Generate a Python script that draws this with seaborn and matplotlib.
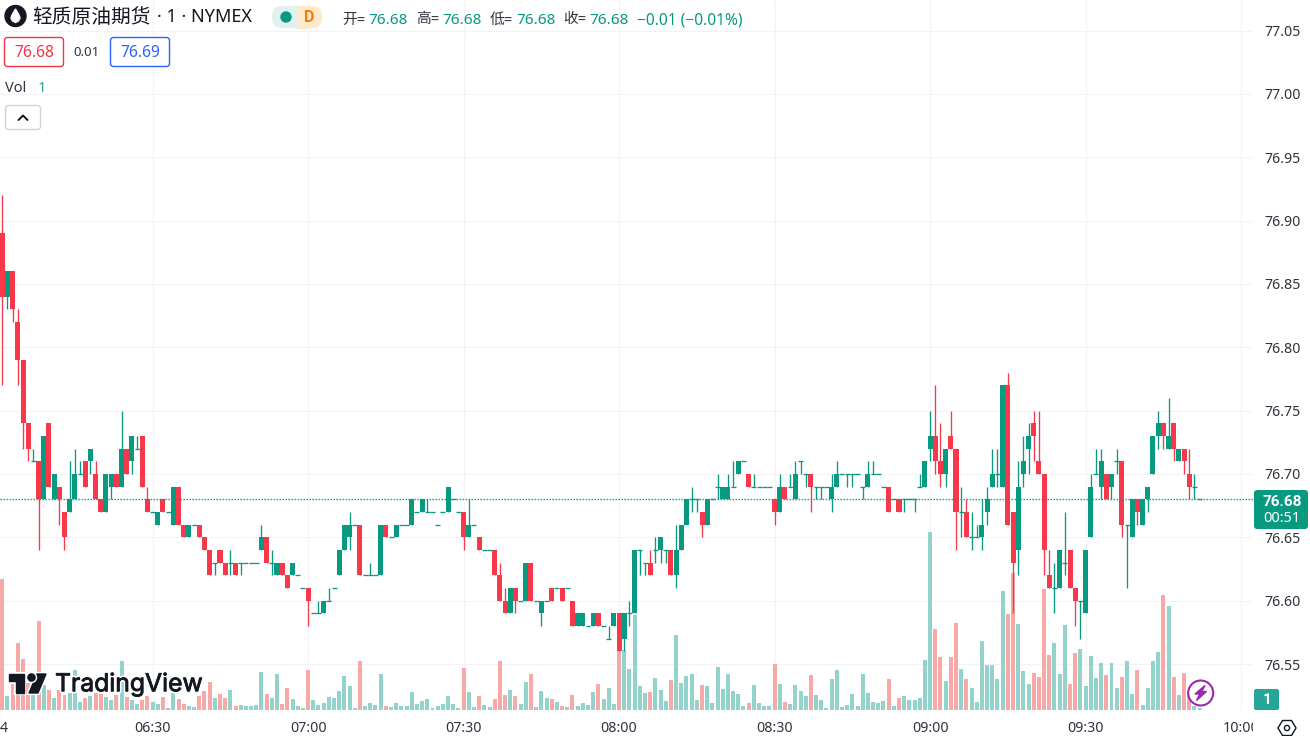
import numpy as np
import pandas as pd
import matplotlib
matplotlib.use("Agg")
import matplotlib.pyplot as plt
import matplotlib.patheffects as pe
from matplotlib.patches import Circle, FancyBboxPatch, Polygon, Rectangle
from matplotlib.transforms import Bbox, ScaledTranslation
import seaborn as sns

# prices are in cents above 76.00, one row per 20 one-minute candles
open_cents = [
    89, 84, 86, 82, 79, 74, 71, 71, 68, 74, 68, 69, 67, 67, 68, 70, 71, 71, 70, 68,
    67, 69, 70, 69, 72, 71, 72, 73, 68, 67, 66, 68, 67, 66, 69, 66, 65, 66, 66, 65,
    64, 63, 64, 63, 63, 63, 63, 63, 63, 63, 64, 65, 63, 62, 63, 62, 62, 62, 61, 61,
    59, 59, 59, 60, 61, 62, 64, 65, 66, 66, 62, 62, 62, 62, 66, 65, 65, 66, 66, 66,
    67, 67, 67, 67, 66, 67, 67, 68, 67, 67, 65, 66, 65, 64, 64, 64, 62, 60, 59, 61,
    60, 60, 63, 60, 59, 60, 61, 61, 61, 61, 60, 58, 58, 58, 58, 59, 58, 57, 58, 59,
    57, 59, 59, 64, 63, 63, 64, 64, 64, 64, 62, 64, 66, 68, 68, 67, 66, 68, 69, 68,
    68, 69, 70, 71, 70, 69, 69, 69, 69, 68, 67, 69, 69, 68, 71, 70, 70, 69, 69, 69,
    68, 69, 70, 70, 70, 70, 69, 69, 70, 70, 69, 69, 68, 68, 68, 68, 68, 69, 69, 72,
    73, 71, 70, 73, 72, 67, 67, 65, 65, 65, 67, 69, 70, 69, 77, 67, 64, 70, 72, 74,
    71, 70, 62, 61, 61, 63, 64, 61, 60, 59, 65, 70, 69, 70, 69, 71, 71, 66, 65, 68,
    66, 68, 70, 73, 74, 72, 74, 71, 72, 70, 69, 68,
]
high_cents = [
    92, 86, 86, 83, 79, 74, 72, 71, 73, 74, 70, 69, 67, 71, 72, 71, 71, 72, 71, 68,
    70, 70, 70, 75, 72, 73, 73, 73, 69, 67, 67, 68, 67, 69, 69, 66, 66, 66, 66, 65,
    64, 63, 64, 63, 64, 63, 63, 63, 63, 63, 66, 65, 64, 63, 63, 62, 63, 62, 61, 61,
    59, 60, 60, 61, 61, 64, 66, 67, 66, 66, 62, 63, 62, 66, 66, 65, 66, 66, 66, 68,
    67, 68, 68, 67, 66, 67, 69, 68, 67, 67, 68, 66, 65, 64, 64, 64, 63, 61, 61, 61,
    60, 63, 63, 60, 60, 60, 61, 61, 61, 61, 60, 59, 59, 58, 59, 59, 58, 58, 59, 59,
    59, 60, 64, 64, 63, 64, 65, 65, 64, 64, 66, 66, 68, 69, 68, 67, 68, 68, 70, 69,
    70, 71, 71, 71, 70, 70, 69, 69, 69, 68, 70, 69, 70, 71, 71, 70, 70, 69, 69, 69,
    70, 71, 70, 70, 70, 70, 69, 71, 71, 70, 69, 69, 68, 68, 68, 68, 68, 70, 71, 75,
    77, 74, 72, 75, 72, 69, 68, 67, 66, 68, 69, 72, 72, 77, 78, 67, 71, 73, 74, 75,
    75, 70, 64, 63, 64, 67, 64, 61, 60, 64, 70, 72, 72, 70, 70, 72, 71, 66, 68, 68,
    68, 69, 73, 75, 74, 76, 74, 72, 72, 72, 70, 68,
]
low_cents = [
    77, 83, 82, 77, 72, 71, 71, 64, 68, 69, 68, 66, 64, 67, 68, 70, 69, 70, 68, 67,
    67, 68, 69, 69, 70, 70, 72, 69, 67, 67, 66, 67, 67, 66, 66, 65, 65, 66, 65, 64,
    62, 62, 63, 62, 62, 62, 62, 63, 63, 63, 64, 63, 62, 62, 62, 61, 62, 62, 61, 58,
    59, 59, 59, 60, 61, 62, 64, 64, 66, 62, 62, 62, 62, 62, 65, 65, 65, 66, 66, 66,
    67, 67, 67, 67, 66, 67, 67, 68, 67, 64, 65, 66, 64, 64, 64, 62, 60, 59, 59, 59,
    60, 60, 60, 60, 58, 60, 60, 61, 60, 61, 58, 58, 58, 58, 58, 58, 58, 57, 58, 56,
    56, 58, 59, 62, 62, 62, 63, 63, 63, 62, 61, 64, 66, 67, 67, 65, 66, 68, 68, 68,
    68, 69, 70, 71, 69, 69, 69, 69, 69, 66, 67, 68, 69, 68, 70, 69, 67, 68, 68, 69,
    67, 69, 70, 69, 69, 70, 68, 69, 70, 70, 69, 67, 68, 67, 67, 68, 67, 69, 69, 71,
    70, 69, 69, 72, 64, 65, 65, 64, 65, 64, 66, 69, 69, 69, 66, 59, 62, 69, 70, 71,
    70, 62, 61, 59, 61, 62, 61, 58, 57, 59, 65, 70, 68, 68, 68, 70, 65, 61, 65, 66,
    66, 67, 70, 72, 72, 72, 71, 71, 70, 68, 68, 68,
]
close_cents = [
    84, 86, 83, 79, 74, 72, 71, 68, 73, 69, 70, 68, 65, 68, 70, 70, 69, 72, 68, 67,
    70, 70, 69, 72, 70, 73, 72, 69, 67, 67, 67, 67, 67, 69, 66, 65, 66, 66, 65, 64,
    62, 63, 63, 62, 63, 62, 63, 63, 63, 63, 65, 63, 63, 63, 62, 61, 63, 62, 61, 60,
    59, 59, 60, 60, 61, 64, 66, 66, 66, 62, 62, 62, 62, 66, 65, 65, 66, 66, 66, 68,
    67, 68, 67, 67, 66, 67, 69, 68, 67, 65, 66, 66, 64, 64, 64, 62, 60, 59, 61, 60,
    60, 63, 60, 60, 60, 60, 60, 61, 60, 61, 58, 59, 59, 58, 59, 58, 58, 57, 59, 56,
    59, 59, 64, 64, 63, 62, 64, 65, 64, 62, 64, 66, 68, 68, 68, 66, 68, 68, 69, 69,
    69, 69, 71, 71, 69, 69, 69, 69, 69, 67, 69, 68, 69, 70, 71, 70, 69, 69, 69, 69,
    69, 70, 70, 70, 70, 70, 69, 70, 70, 70, 69, 67, 68, 67, 68, 68, 68, 69, 71, 73,
    71, 70, 72, 72, 67, 67, 65, 65, 65, 66, 68, 70, 70, 77, 66, 63, 69, 71, 73, 73,
    70, 64, 61, 61, 64, 63, 61, 60, 60, 64, 69, 70, 71, 68, 70, 71, 66, 66, 68, 67,
    68, 69, 73, 74, 73, 73, 72, 72, 71, 69, 69, 68,
]
volumes = [
    131, 14, 26, 67, 51, 27, 15, 89, 25, 20, 12, 20, 15, 17, 40, 8, 12, 14, 17, 16,
    13, 10, 15, 49, 13, 10, 6, 10, 14, 8, 6, 13, 2, 17, 11, 6, 4, 3, 14, 19,
    28, 12, 16, 12, 20, 4, 5, 4, 4, 5, 38, 16, 12, 36, 6, 22, 11, 4, 2, 40,
    10, 5, 7, 13, 12, 19, 34, 24, 2, 49, 4, 7, 5, 36, 4, 3, 7, 4, 4, 18,
    6, 9, 11, 2, 4, 6, 14, 6, 2, 42, 18, 3, 14, 5, 3, 11, 49, 15, 20, 14,
    6, 28, 36, 3, 19, 12, 11, 8, 4, 3, 15, 4, 7, 5, 18, 26, 11, 22, 6, 75,
    60, 41, 95, 24, 17, 18, 32, 20, 9, 30, 75, 27, 34, 36, 10, 25, 24, 7, 43, 21,
    36, 19, 16, 4, 7, 25, 7, 4, 4, 46, 26, 8, 6, 25, 19, 14, 35, 15, 10, 2,
    31, 40, 3, 5, 16, 4, 36, 17, 8, 7, 9, 31, 4, 12, 14, 10, 10, 12, 50, 178,
    81, 53, 29, 53, 87, 41, 31, 22, 8, 69, 45, 45, 31, 119, 96, 137, 86, 39, 26, 37,
    33, 121, 55, 67, 36, 85, 26, 57, 61, 24, 54, 32, 47, 35, 47, 22, 33, 49, 16, 40,
    5, 22, 49, 58, 115, 104, 33, 15, 37, 18, 4, 2,
]

price_ticks = [76.55, 76.60, 76.65, 76.70, 76.75, 76.80, 76.85, 76.90, 76.95, 77.00, 77.05]
time_ticks = [29, 59, 89, 119, 149, 179, 209, 239]
time_labels = ["06:30", "07:00", "07:30", "08:00", "08:30", "09:00", "09:30", "10:00"]
last_price = 76.68

RED = "#F7374A"
GREEN = "#089981"
VOL_RED = "#F7A9A7"
VOL_GREEN = "#94D3CC"
GRID = "#F3F3F5"
TEXT = "#2F333D"

df = pd.DataFrame({
    "minute": np.arange(len(volumes)),
    "open": 76 + np.array(open_cents) / 100,
    "high": 76 + np.array(high_cents) / 100,
    "low": 76 + np.array(low_cents) / 100,
    "close": 76 + np.array(close_cents) / 100,
    "volume": volumes,
})
df["side"] = np.where(df["close"] < df["open"], "down", "up")
bodies = df[df["open"] != df["close"]]
dojis = df[df["open"] == df["close"]]

sns.set_theme(style="white")
plt.rcParams["font.family"] = ["Noto Sans", "Noto Sans CJK SC", "DejaVu Sans"]

W, H = 1310, 736
fig = plt.figure(figsize=(W / 100, H / 100), dpi=100, facecolor="white")
rect = [0, 26 / H, 1253 / W, 710 / H]
xlim = (-0.444, 241.3)
ylim = (76.5137, 77.0741)

# gridlines and price / time scales at the bottom
ax_grid = fig.add_axes(rect, zorder=1)
ax_grid.set_xlim(xlim)
ax_grid.set_ylim(ylim)
ax_grid.yaxis.tick_right()
ax_grid.set_yticks(price_ticks, [f"{p:.2f}" for p in price_ticks])
ax_grid.set_xticks(time_ticks, time_labels)
ax_grid.tick_params(axis="y", length=0, pad=8, labelsize=10.2, labelcolor=TEXT)
ax_grid.tick_params(axis="x", length=0, pad=8, labelsize=10.2, labelcolor=TEXT)
ax_grid.grid(True, color=GRID, linewidth=0.8)
sns.despine(ax=ax_grid, left=True, bottom=True, right=True, top=True)
for tick_label in ax_grid.get_xticklabels():
    tick_label.set_clip_on(True)
    tick_label.set_clip_box(Bbox.from_extents(0, 0, 1253, H))

# volume bars, heights
ax_vol = fig.add_axes(rect, zorder=2)
ax_vol.patch.set_visible(False)
sns.barplot(data=df, x="minute", y="volume", hue="side", native_scale=True, dodge=False,
            palette={"down": VOL_RED, "up": VOL_GREEN}, saturation=1, width=0.77,
            linewidth=0, legend=False, ax=ax_vol)
ax_vol.set_xlim(xlim)
ax_vol.set_ylim(0, 710)
ax_vol.axis("off")

# candles
ax_price = fig.add_axes(rect, zorder=3)
ax_price.patch.set_visible(False)
ax_price.set_xlim(xlim)
ax_price.set_ylim(ylim)
ax_price.axis("off")
wick_colors = df["side"].map({"down": RED, "up": GREEN})
ax_price.vlines(df["minute"], df["low"], df["high"], colors=wick_colors, linewidth=0.95)
ax_price.bar(bodies["minute"], (bodies["close"] - bodies["open"]).abs(),
             bottom=bodies[["open", "close"]].min(axis=1), width=0.97, linewidth=0,
             color=bodies["side"].map({"down": RED, "up": GREEN}))
ax_price.hlines(dojis["close"], dojis["minute"] - 0.48, dojis["minute"] + 0.48,
                colors=GREEN, linewidth=0.95)
ax_price.axhline(last_price, color=GREEN, linewidth=1, linestyle=(0, (1, 1.16)))

# overlay in screen pixels for legend, badges and logo
ui = fig.add_axes([0, 0, 1, 1], zorder=4)
ui.patch.set_visible(False)
ui.set_xlim(0, W)
ui.set_ylim(H, 0)
ui.axis("off")


def label(x, y, s, size=10, color=TEXT, ha="left", **kw):
    return ui.text(x, y, s, fontsize=size, color=color, ha=ha, va="center", **kw)


def box(x0, y0, x1, y1, face="white", edge="none", lw=1, r=3, **kw):
    ui.add_patch(FancyBboxPatch((x0 + r, y0 + r), x1 - x0 - 2 * r, y1 - y0 - 2 * r,
                                boxstyle=f"round,pad={r}", facecolor=face, edgecolor=edge,
                                linewidth=lw, **kw))


# symbol header
ui.add_patch(Circle((15.5, 16), 10.5, color="#131722"))
ui.add_patch(Polygon([(15.5, 9), (19, 15), (20, 18), (18.5, 21), (15.5, 22.5), (12.5, 21),
                      (11, 18), (12, 15)], color="white"))
label(32, 18, "轻质原油期货", size=14.2, color="#131722")
label(157, 17, "· 1 · NYMEX", size=13, color="#131722")

# status pill
box(272, 6, 322, 28, face="#DFF2EF", r=10)
box(297, 6, 322, 28, face="#FFE9CC", r=10)
ui.add_patch(Rectangle((297, 6), 12, 22, color="#FFE9CC"))
ui.add_patch(Circle((286, 17), 5, color=GREEN))
label(309, 17.5, "D", size=11.5, color="#F57C00", ha="center", fontweight="bold",
      family="Roboto")

# OHLC legend
for x, ch in zip([342, 416, 490, 563], ["开", "高", "低", "收"]):
    label(x, 20, ch + "=", size=10.6, color=TEXT)
    label(x + 26, 20.5, f"{last_price:.2f}", size=11, color=GREEN)
label(637, 20.5, "−0.01 (−0.01%)", size=11.2, color=GREEN)

# bid / ask
box(4.5, 37.5, 63.5, 66.5, edge="#F23645")
label(34, 53, "76.68", size=11.2, color="#F23645", ha="center")
label(87, 53, "0.01", size=9.5, ha="center")
box(110.5, 37.5, 169.5, 66.5, edge="#2962FF")
label(140, 53, "76.69", size=11.2, color="#2962FF", ha="center")

# volume legend and collapse button
label(5, 88, "Vol", size=10.5)
label(38, 88, "1", size=10.5, color="#26A69A")
box(5.5, 105.5, 40.5, 129.5, edge="#D1D4DC")
ui.plot([18.5, 23, 27.5], [120, 115.5, 120], color="#131722", linewidth=1.4)

# cut-off date label on the time scale
label(0, 728, "4", size=10.2)

# last price badge
box(1254, 490, 1308, 529, face=GREEN, r=3)
label(1282, 502, "76.68", size=11, color="white", ha="center", fontweight="bold",
      family="Roboto")
label(1282, 519, "00:51", size=10.5, color="white", ha="center")

# volume badge
box(1254, 689, 1279, 710, face="#26A69A", r=2)
label(1267, 700.5, "1", size=11, color="white", ha="center", fontweight="bold",
      family="Roboto")

# chart settings icon
ui.add_patch(Polygon([(1278, 728), (1282.5, 720.5), (1291.5, 720.5), (1296, 728),
                      (1291.5, 735.5), (1282.5, 735.5)], fill=False, edgecolor="#131722",
                     linewidth=1))
ui.add_patch(Circle((1287, 728), 2.6, fill=False, edgecolor="#131722", linewidth=1))

# lightning badge
ui.add_patch(Circle((1200.7, 693), 12.5, facecolor="white", edgecolor="#9C27B0", linewidth=1.5))
ui.add_patch(Polygon([(1205, 685.5), (1195, 694), (1199.8, 694), (1196.5, 700.5),
                      (1206.5, 691.5), (1201.8, 691.5)], color="#9C27B0"))

# TradingView logo
logo_color = "#131722"
for shape in ([(9, 674), (24, 674), (24, 693), (16, 693), (16, 681), (9, 681)],
              [(37, 674), (46, 674), (38, 693), (29, 693)]):
    patch = Polygon(shape, color=logo_color)
    patch.set_path_effects([pe.withStroke(linewidth=3, foreground="white")])
    ui.add_patch(patch)
dot = Circle((31.5, 677.5), 3.6, color=logo_color)
dot.set_path_effects([pe.withStroke(linewidth=3, foreground="white")])
ui.add_patch(dot)
label(55, 684.5, "TradingView", size=17.8, color=logo_color, family=["Inter", "Noto Sans"],
      path_effects=[pe.Stroke(linewidth=3, foreground="white"),
                    pe.Stroke(linewidth=0.6, foreground=logo_color), pe.Normal()])

fig.savefig("out.png", dpi=100)
